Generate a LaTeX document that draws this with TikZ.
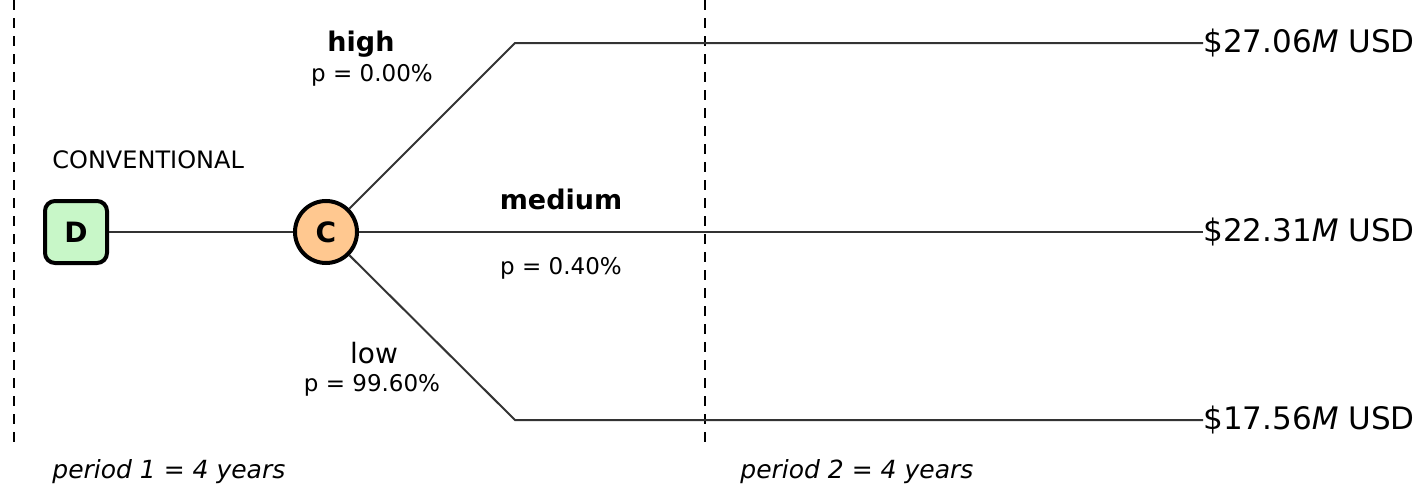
\documentclass[tikz,border=0pt]{standalone}
\usepackage{fontspec}
\setmainfont{DejaVu Sans}
\usetikzlibrary{calc}
\definecolor{dgreen}{HTML}{C8F7C8}
\definecolor{corange}{HTML}{FFC890}
\definecolor{lgray}{HTML}{333333}
\begin{document}
\begin{tikzpicture}[x=0.5pt,y=-0.5pt,
  divider/.style={dashed,dash pattern=on 5pt off 4pt,line width=0.7pt,black},
  branch/.style={line width=1pt,lgray},
  dnode/.style={draw,line width=2pt,fill=dgreen,rounded corners=5pt,minimum width=31pt,minimum height=31pt,inner sep=0pt,font=\bfseries\fontsize{14}{16}\selectfont},
  cnode/.style={draw,circle,line width=2pt,fill=corange,minimum size=31pt,inner sep=0pt,font=\bfseries\fontsize{14}{16}\selectfont},
  lbl/.style={font=\fontsize{11.5}{13}\selectfont,inner sep=0pt},
  blbl/.style={font=\bfseries\fontsize{13.5}{16}\selectfont,inner sep=0pt},
  vlbl/.style={font=\fontsize{15.5}{18}\selectfont,inner sep=0pt,anchor=west},
  plbl/.style={font=\itshape\fontsize{12.5}{15}\selectfont,inner sep=0pt,anchor=west}]
\useasboundingbox (0,0) rectangle (1420,487);
\draw[divider] (14,0) -- (14,445);
\draw[divider] (705,0) -- (705,445);
\node[dnode] (d) at (76,232) {D};
\node[cnode] (c) at (326,232) {C};
\coordinate (hk) at (515,43);
\coordinate (lk) at (515,420);
\node[vlbl] (v1) at (1203,43) {\$27.06\textit{M} USD};
\node[vlbl] (v2) at (1203,232) {\$22.31\textit{M} USD};
\node[vlbl] (v3) at (1203,420) {\$17.56\textit{M} USD};
\draw[branch] (d) -- (c);
\draw[branch] (c) -- (hk) -- (v1.west);
\draw[branch] (c) -- (v2.west);
\draw[branch] (c) -- (lk) -- (v3.west);
\node[lbl,anchor=west,font=\fontsize{12}{14}\selectfont] (conv) at (52,160) {CONVENTIONAL};
\node[blbl] (hi) at (361,44) {high};
\node[lbl] (hip) at (372,75) {p = 0.00\%};
\node[blbl] (me) at (561,199) {medium};
\node[lbl] (mep) at (561,268) {p = 0.40\%};
\node[lbl,font=\fontsize{14}{16}\selectfont] (lo) at (374,353) {low};
\node[lbl] (lop) at (372,385) {p = 99.60\%};
\node[plbl] (p1) at (52,472) {period 1 = 4 years};
\node[plbl] (p2) at (740,472) {period 2 = 4 years};
\end{tikzpicture}
\end{document}
